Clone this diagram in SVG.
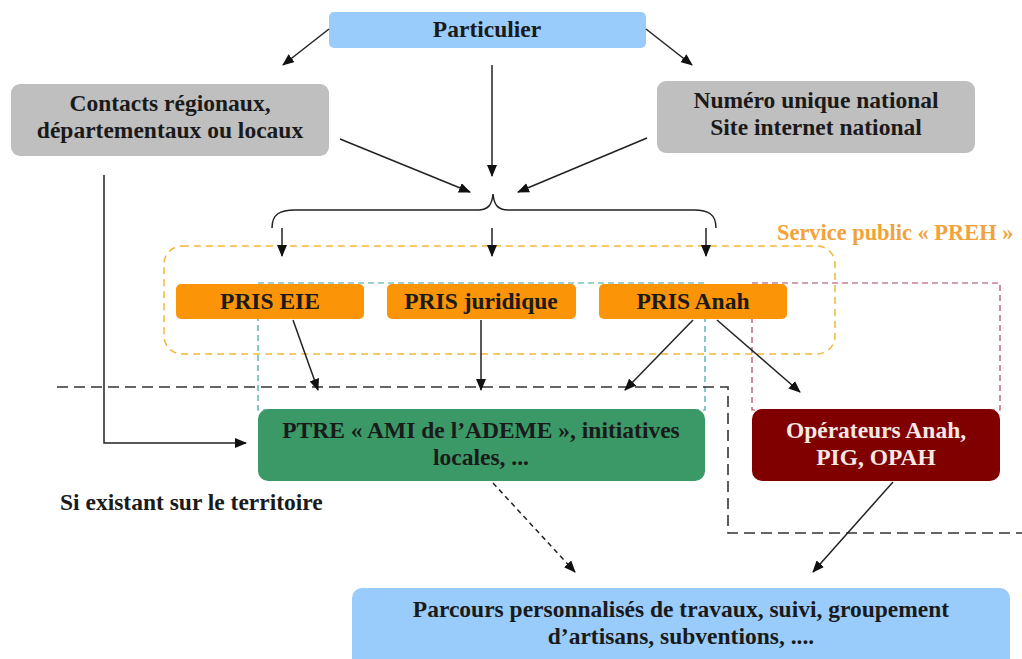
<svg xmlns="http://www.w3.org/2000/svg" width="1022" height="659" viewBox="0 0 1022 659">
<defs>
<marker id="ah" viewBox="0 0 12 10" refX="11" refY="5" markerWidth="12" markerHeight="10" markerUnits="userSpaceOnUse" orient="auto">
<path d="M0,0 L12,5 L0,10 Z" fill="#111"/>
</marker>
<style>
text{font-family:"Liberation Serif","Times New Roman",serif;font-weight:bold;font-size:23.5px;text-anchor:middle;fill:#1a1a1a}
.arr{stroke:#222;stroke-width:1.5;fill:none;marker-end:url(#ah)}
.blue{fill:#99ccfa}
.grey{fill:#bfbfbf}
.pris{fill:#fb9406}
</style>
</defs>
<rect width="1022" height="659" fill="#ffffff"/>

<g id="frames" fill="none">
<rect id="preh-frame" x="164" y="246" width="671" height="108" rx="18" stroke="#f2b63c" stroke-width="1.5" stroke-dasharray="7,5"/>
<rect id="teal-frame" x="258" y="283" width="447" height="127" stroke="#3aa3a0" stroke-width="1.2" stroke-dasharray="6,4"/>
<rect id="red-frame" x="752" y="283" width="248" height="127" stroke="#a8455a" stroke-width="1.2" stroke-dasharray="6,4"/>
<path id="territoire-line" d="M57,387 H728 V533 H1022" stroke="#333" stroke-width="1.6" stroke-dasharray="11,6"/>
</g>

<g id="n-particulier">
<rect class="blue" x="329" y="12" width="317" height="36" rx="5"/>
<text x="487" y="37">Particulier</text>
</g>
<g id="n-contacts">
<rect class="grey" x="11" y="84" width="318" height="72" rx="9"/>
<text x="170" y="111">Contacts régionaux,</text>
<text x="170" y="138">départementaux ou locaux</text>
</g>
<g id="n-numero">
<rect class="grey" x="657" y="81" width="318" height="72" rx="9"/>
<text x="816" y="108">Numéro unique national</text>
<text x="816" y="135">Site internet national</text>
</g>
<g id="n-preh-label">
<text x="777" y="240" style="text-anchor:start;fill:#f2a23a;font-size:22.4px">Service public « PREH »</text>
</g>
<g id="n-pris-eie">
<rect class="pris" x="176" y="284" width="188" height="35" rx="5"/>
<text x="270" y="309">PRIS EIE</text>
</g>
<g id="n-pris-juridique">
<rect class="pris" x="387" y="284" width="189" height="35" rx="5"/>
<text x="481" y="309">PRIS juridique</text>
</g>
<g id="n-pris-anah">
<rect class="pris" x="599" y="284" width="188" height="35" rx="5"/>
<text x="693" y="309">PRIS Anah</text>
</g>
<g id="n-ptre">
<rect x="258" y="409" width="447" height="72" rx="10" fill="#3a9966"/>
<text x="481" y="438">PTRE « AMI de l’ADEME », initiatives</text>
<text x="481" y="465">locales, ...</text>
</g>
<g id="n-operateurs">
<rect x="752" y="409" width="248" height="72" rx="10" fill="#800000"/>
<text x="876" y="438" style="fill:#f7e8e4">Opérateurs Anah,</text>
<text x="876" y="465" style="fill:#f7e8e4">PIG, OPAH</text>
</g>
<g id="n-si-existant">
<text x="60" y="510" style="text-anchor:start">Si existant sur le territoire</text>
</g>
<g id="n-parcours">
<rect class="blue" x="352" y="588" width="658" height="80" rx="10"/>
<text x="681" y="617">Parcours personnalisés de travaux, suivi, groupement</text>
<text x="681" y="644">d’artisans, subventions, ....</text>
</g>

<g id="connectors">
<line class="arr" x1="329" y1="29" x2="283" y2="65"/>
<line class="arr" x1="646" y1="29" x2="692" y2="65"/>
<line class="arr" x1="492" y1="65" x2="492" y2="176"/>
<line class="arr" x1="340" y1="139" x2="470" y2="192"/>
<line class="arr" x1="647" y1="138" x2="518" y2="192"/>
<path id="brace" d="M272,228 C272,214 280,210 295,210 H478 C488,210 492,205 493,194 C494,205 498,210 508,210 H694 C708,210 716,214 716,228" fill="none" stroke="#222" stroke-width="1.5"/>
<line class="arr" x1="282" y1="228" x2="282" y2="256"/>
<line class="arr" x1="492" y1="228" x2="492" y2="256"/>
<line class="arr" x1="706" y1="228" x2="706" y2="256"/>
<line class="arr" x1="293" y1="320" x2="318" y2="390"/>
<line class="arr" x1="481" y1="320" x2="481" y2="390"/>
<line class="arr" x1="693" y1="320" x2="625" y2="390"/>
<line class="arr" x1="717" y1="320" x2="800" y2="392"/>
<path class="arr" d="M104,175 V443 H246"/>
<line class="arr" x1="493" y1="483" x2="575" y2="572" stroke-dasharray="5,4"/>
<line class="arr" x1="893" y1="482" x2="813" y2="572"/>
</g>
</svg>
